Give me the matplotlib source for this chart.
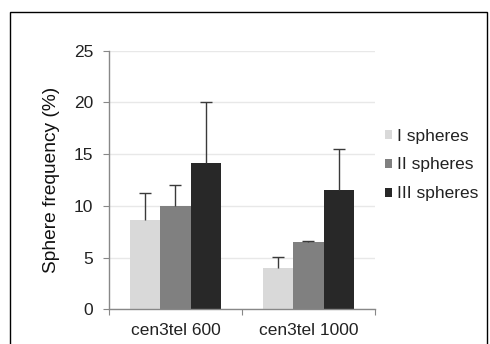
import numpy as np
import matplotlib.pyplot as plt
from matplotlib.patches import Rectangle

plt.rcParams['font.family'] = ['Liberation Sans', 'DejaVu Sans']

# Data
groups = ['cen3tel 600', 'cen3tel 1000']
series = ['I spheres', 'II spheres', 'III spheres']
values = {
    'I spheres': [8.6, 4.0],
    'II spheres': [10.0, 6.55],
    'III spheres': [14.15, 11.5],
}
errors = {
    'I spheres': [2.6, 1.1],
    'II spheres': [2.0, 0.1],
    'III spheres': [5.85, 4.0],
}
colors = ['#d9d9d9', '#808080', '#282828']

fig = plt.figure(figsize=(4.9, 3.44), dpi=100)
ax = fig.add_axes([0.2224, 0.1008, 0.5428, 0.7518])

# outer frame around the chart
fig.patches.append(Rectangle((10 / 490, -0.05), 477 / 490, 1.05 - 12 / 344,
                             transform=fig.transFigure, fill=False,
                             edgecolor='black', linewidth=1.0))

x = np.arange(len(groups))
width = 0.227
for i, (name, c) in enumerate(zip(series, colors)):
    pos = x + (i - 1) * width
    vals = np.array(values[name])
    errs = np.array(errors[name])
    ax.bar(pos, vals, width, color=c, label=name, zorder=2)
    # upper error bar only, with a cap at the top
    ax.vlines(pos, vals, vals + errs, color='#3a3a3a', linewidth=1.0, zorder=3)
    ax.plot(pos, vals + errs, ls='none', marker='_', markersize=8,
            markeredgewidth=1.0, color='#3a3a3a', zorder=3)

ax.set_xlim(-0.5, 1.5)
ax.set_ylim(0, 25)
ax.set_yticks([0, 5, 10, 15, 20, 25])
ax.set_xticks([-0.5, 0.5, 1.5], minor=False)
ax.set_xticklabels(['', '', ''])
ax.set_xticks(x, minor=True)
ax.set_xticklabels(groups, minor=True)
ax.tick_params(axis='x', which='minor', length=0, labelsize=12.5, pad=10, labelcolor='#222222')
ax.tick_params(axis='x', which='major', length=4, color='#888888', direction='out')
ax.tick_params(axis='y', length=4.5, color='#888888', labelsize=12.5, pad=7, labelcolor='#222222')

ax.grid(axis='y', color='#e8e8e8', linewidth=1.0, zorder=0)
ax.set_axisbelow(True)
for s in ['top', 'right']:
    ax.spines[s].set_visible(False)
for s in ['left', 'bottom']:
    ax.spines[s].set_color('#888888')
    ax.spines[s].set_linewidth(1.0)

ax.set_ylabel('Sphere frequency (%)', fontsize=13.8, labelpad=10, color='#111111')

fig.legend(loc='center left', bbox_to_anchor=(385 / 490, 1 - 165 / 344),
           bbox_transform=fig.transFigure, frameon=False,
           fontsize=12.5, handlelength=0.4, handleheight=0.4, handletextpad=0.28,
           labelspacing=0.8, borderaxespad=0, borderpad=0, labelcolor='#222222')

plt.savefig('out.png', dpi=100)
